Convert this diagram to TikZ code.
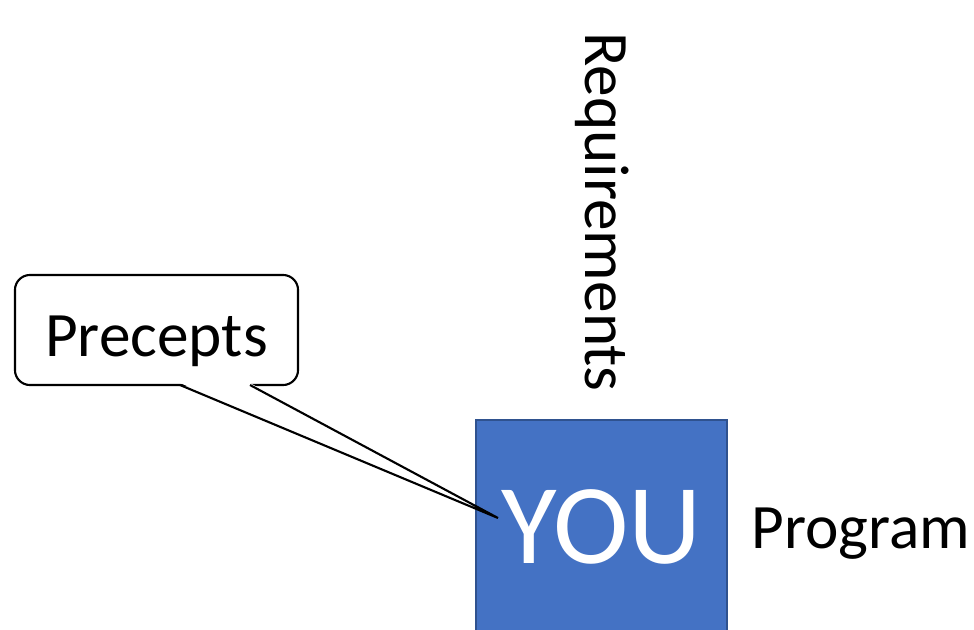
\documentclass[tikz,border=0pt]{standalone}
\usepackage{fontspec}
\setmainfont{Carlito}
\definecolor{youblue}{HTML}{4472C4}
\definecolor{youedge}{HTML}{2F528F}
\begin{document}
\begin{tikzpicture}[x=0.025cm, y=-0.025cm,
    youbox/.style={draw=youedge, line width=0.8pt, fill=youblue, text=white, minimum width=6.275cm, minimum height=5.35cm, inner sep=0pt, font=\fontsize{81}{81}\selectfont},
    bubble/.style={draw, line width=1.5pt, fill=white, rounded corners=0.375cm, minimum width=7.075cm, minimum height=2.75cm, inner sep=0pt, text depth=0pt, text height=38pt, font=\fontsize{45}{45}\selectfont},
    word/.style={inner sep=0pt, font=\fontsize{45}{45}\selectfont}]
    \useasboundingbox (0,0) rectangle (974,630);
    \node[youbox] (you) at (601.5,527) {YOU};
    \node[word, rotate=-90, anchor=base] (req) at (585,212) {Requirements};
    \node[word, anchor=base west] (prog) at (751,548) {Program};
    \node[bubble] (precepts) at (156.5,330) {Precepts};
    \coordinate (tailL) at (180,385);
    \coordinate (tailR) at (250,385);
    \coordinate (tip) at (498,518);
    \fill[white] ([yshift=1.4pt]tailL) -- (tip) -- ([yshift=1.4pt]tailR) -- cycle;
    \draw[line width=1.5pt] (tailL) -- (tip) -- (tailR);
\end{tikzpicture}
\end{document}
